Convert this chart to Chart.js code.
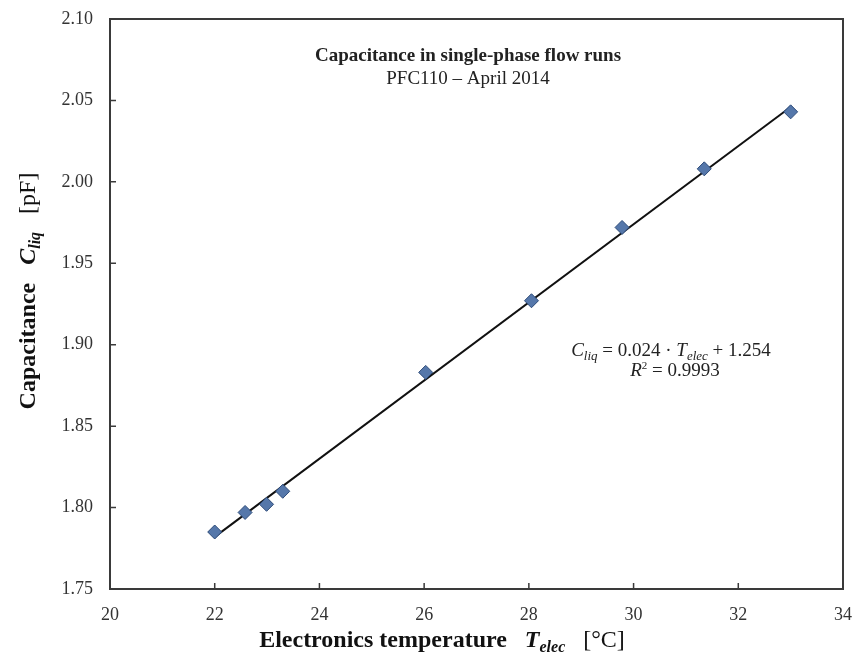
<!DOCTYPE html>
<html>
<head>
<meta charset="utf-8">
<script src="https://cdn.jsdelivr.net/npm/chart.js@4/dist/chart.umd.min.js"></script>
<style>
  html, body { margin: 0; padding: 0; background: #fff; }
  #wrap { width: 854px; height: 655px; position: relative; }
</style>
</head>
<body>
<div id="wrap"><canvas id="capChart" width="854" height="655"></canvas></div>
<script>
// measured points (electronics temperature vs capacitance)
var tempElec = [22.0, 22.58, 22.99, 23.30, 26.03, 28.05, 29.78, 31.35, 33.0];
var capLiq = [1.785, 1.797, 1.802, 1.810, 1.883, 1.927, 1.972, 2.008, 2.043];
// fitted trend line as printed on the chart
var fitSlope = 0.024;
var fitIntercept = 1.254;
var xTicks = [20, 22, 24, 26, 28, 30, 32, 34];
var yTicks = [1.75, 1.80, 1.85, 1.90, 1.95, 2.00, 2.05, 2.10];

var serif = '"Liberation Serif", "Times New Roman", serif';
var xMinData = Math.min.apply(null, tempElec);
var xMaxData = Math.max.apply(null, tempElec);
var trendPts = [
    { x: xMinData, y: fitSlope * xMinData + fitIntercept },
    { x: xMaxData, y: fitSlope * xMaxData + fitIntercept }
];
var points = tempElec.map(function (t, i) { return { x: t, y: capLiq[i] }; });

// draws a run of text pieces with different fonts, returns total width
function drawRuns(ctx, runs, x, y, measureOnly) {
    var cx = x;
    runs.forEach(function (r) {
        ctx.font = r.font;
        var dy = r.dy || 0;
        if (!measureOnly) ctx.fillText(r.text, cx, y + dy);
        cx += ctx.measureText(r.text).width;
    });
    return cx - x;
}
function drawRunsCentered(ctx, runs, cx, y) {
    var w = drawRuns(ctx, runs, 0, 0, true);
    drawRuns(ctx, runs, cx - w / 2, y, false);
}

var framePlugin = {
    id: 'frameAndText',
    afterDraw: function (chart) {
        var ctx = chart.ctx;
        var a = chart.chartArea;
        var xs = chart.scales.x, ys = chart.scales.y;
        ctx.save();
        // frame
        ctx.strokeStyle = '#3a3a3a';
        ctx.lineWidth = 2;
        ctx.strokeRect(a.left, a.top, a.right - a.left, a.bottom - a.top);
        // inside ticks
        ctx.lineWidth = 1.5;
        ctx.beginPath();
        xTicks.forEach(function (v) {
            var px = xs.getPixelForValue(v);
            ctx.moveTo(px, a.bottom);
            ctx.lineTo(px, a.bottom - 6);
        });
        yTicks.forEach(function (v) {
            var py = ys.getPixelForValue(v);
            ctx.moveTo(a.left, py);
            ctx.lineTo(a.left + 6, py);
        });
        ctx.stroke();

        ctx.fillStyle = '#222';
        ctx.textBaseline = 'alphabetic';
        ctx.textAlign = 'left';

        // title inside plot
        drawRunsCentered(ctx, [{ text: 'Capacitance in single-phase flow runs', font: 'bold 19px ' + serif }], 468, 61);
        drawRunsCentered(ctx, [{ text: 'PFC110 \u2013 April 2014', font: '19px ' + serif }], 468, 84);

        // fit equation
        drawRunsCentered(ctx, [
            { text: 'C', font: 'italic 19px ' + serif },
            { text: 'liq', font: 'italic 13px ' + serif, dy: 4 },
            { text: ' = 0.024 \u00b7 ', font: '19px ' + serif },
            { text: 'T', font: 'italic 19px ' + serif },
            { text: 'elec', font: 'italic 13px ' + serif, dy: 4 },
            { text: ' + 1.254', font: '19px ' + serif }
        ], 671, 356);
        drawRunsCentered(ctx, [
            { text: 'R', font: 'italic 19px ' + serif },
            { text: '2', font: '11px ' + serif, dy: -7 },
            { text: ' = 0.9993', font: '19px ' + serif }
        ], 675, 376);

        // x axis title
        ctx.fillStyle = '#111';
        drawRunsCentered(ctx, [
            { text: 'Electronics temperature   ', font: 'bold 24px ' + serif },
            { text: 'T', font: 'bold italic 24px ' + serif },
            { text: 'elec', font: 'bold italic 16px ' + serif, dy: 5 },
            { text: '   [\u00b0C]', font: '24px ' + serif }
        ], 442, 647);

        // y axis title (rotated)
        ctx.translate(35, 291);
        ctx.rotate(-Math.PI / 2);
        drawRunsCentered(ctx, [
            { text: 'Capacitance   ', font: 'bold 24px ' + serif },
            { text: 'C', font: 'bold italic 24px ' + serif },
            { text: 'liq', font: 'bold italic 16px ' + serif, dy: 5 },
            { text: '   [pF]', font: '24px ' + serif }
        ], 0, 0);
        ctx.restore();
    }
};

var ctx = document.getElementById('capChart').getContext('2d');
var capChart = new Chart(ctx, {
    type: 'scatter',
    data: {
        datasets: [{
            label: 'Trend',
            data: trendPts,
            showLine: true,
            borderColor: '#111',
            borderWidth: 2,
            pointRadius: 0,
            order: 2
        }, {
            label: 'Capacitance',
            data: points,
            pointStyle: 'rectRot',
            pointRadius: 7,
            backgroundColor: '#5577aa',
            borderColor: '#2c4a78',
            borderWidth: 1,
            order: 1
        }]
    },
    options: {
        responsive: false,
        animation: false,
        layout: { padding: { left: 0, right: 11, top: 19, bottom: 0 } },
        plugins: {
            legend: { display: false },
            tooltip: { enabled: false }
        },
        scales: {
            x: {
                type: 'linear',
                min: 20,
                max: 34,
                grid: { display: false },
                border: { display: false },
                afterBuildTicks: function (scale) {
                    scale.ticks = xTicks.map(function (v) { return { value: v }; });
                },
                afterFit: function (scale) {
                    scale.height = 66;
                    scale.paddingLeft = 0;
                    scale.paddingRight = 0;
                },
                ticks: {
                    padding: 7,
                    color: '#333',
                    font: { family: serif, size: 18 },
                    callback: function (v) { return v; }
                }
            },
            y: {
                type: 'linear',
                min: 1.75,
                max: 2.10,
                grid: { display: false },
                border: { display: false },
                afterBuildTicks: function (scale) {
                    scale.ticks = yTicks.map(function (v) { return { value: v }; });
                },
                afterFit: function (scale) {
                    scale.width = 110;
                    scale.paddingTop = 0;
                    scale.paddingBottom = 0;
                },
                ticks: {
                    padding: 9,
                    color: '#333',
                    font: { family: serif, size: 18 },
                    callback: function (v) { return v.toFixed(2); }
                }
            }
        }
    },
    plugins: [framePlugin]
});
</script>
</body>
</html>
